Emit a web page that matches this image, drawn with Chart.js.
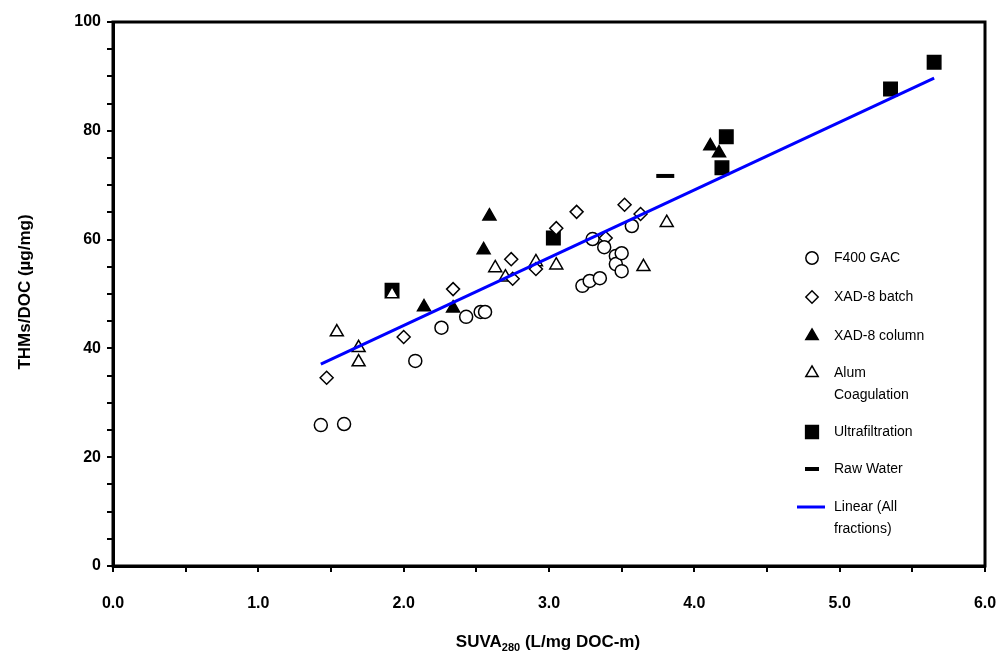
<!DOCTYPE html>
<html>
<head>
<meta charset="utf-8">
<script src="https://cdn.jsdelivr.net/npm/chart.js@4/dist/chart.umd.min.js"></script>
<style>
  html, body { margin: 0; padding: 0; background: #fff; }
  #wrap { width: 1002px; height: 658px; }
</style>
</head>
<body>
<div id="wrap"><canvas id="chart" width="1002" height="658"></canvas></div>
<script>
// F400 GAC
const gacX = [1.43, 1.59, 2.08, 2.26, 2.43, 2.53, 2.56, 3.23, 3.28, 3.30, 3.35, 3.38, 3.46, 3.46, 3.50, 3.50, 3.57];
const gacY = [25.9, 26.1, 37.7, 43.8, 45.8, 46.7, 46.7, 51.5, 52.4, 60.1, 52.9, 58.6, 57.0, 55.5, 57.5, 54.2, 62.5];
// XAD-8 batch
const batchX = [1.47, 2.00, 2.34, 2.74, 2.75, 2.91, 3.05, 3.19, 3.39, 3.52, 3.63];
const batchY = [34.6, 42.1, 50.9, 56.4, 52.8, 54.6, 62.1, 65.1, 60.3, 66.4, 64.7];
// XAD-8 column
const columnX = [2.14, 2.34, 2.55, 2.59, 4.11, 4.17];
const columnY = [47.6, 47.4, 58.1, 64.3, 77.2, 75.9];
// Alum coagulation
const alumX = [1.54, 1.69, 1.69, 1.92, 2.63, 2.70, 2.91, 3.05, 3.65, 3.81];
const alumY = [43.0, 40.1, 37.5, 50.0, 54.8, 53.1, 55.9, 55.3, 55.0, 63.1];
// Ultrafiltration
const ufX = [1.92, 3.03, 4.19, 4.22, 5.35, 5.65];
const ufY = [50.7, 60.3, 73.2, 78.9, 87.7, 92.6];
// Raw water
const rawX = [3.80];
const rawY = [71.7];
// Linear trend (all fractions), end points
const trendX = [1.43, 5.65];
const trendY = [37.1, 89.7];

const FONT = '"Liberation Sans", Arial, sans-serif';

function pts(xs, ys) {
  return xs.map((x, i) => ({ x: x, y: ys[i] }));
}

const series = [
  { label: 'F400 GAC', x: gacX, y: gacY, style: 'circle', r: 6.5, fill: '#fff' },
  { label: 'XAD-8 batch', x: batchX, y: batchY, style: 'rectRot', r: 6.5, fill: '#fff' },
  { label: 'XAD-8 column', x: columnX, y: columnY, style: 'triangle', r: 7.5, fill: '#000' },
  { label: ['Alum', 'Coagulation'], x: alumX, y: alumY, style: 'triangle', r: 7.5, fill: '#fff' },
  { label: 'Ultrafiltration', x: ufX, y: ufY, style: 'rect', r: 9.5, fill: '#000' },
  { label: 'Raw Water', x: rawX, y: rawY, style: 'line', r: 9, fill: '#000', bw: 4 },
];

const datasets = [
  {
    label: 'Linear (All fractions)',
    data: pts(trendX, trendY),
    showLine: true,
    borderColor: '#0000ff',
    borderWidth: 3,
    pointRadius: 0,
    fill: false,
  },
];
series.forEach(s => {
  datasets.push({
    label: Array.isArray(s.label) ? s.label.join(' ') : s.label,
    data: pts(s.x, s.y),
    pointStyle: s.style,
    pointRadius: s.r,
    pointBackgroundColor: s.fill,
    pointBorderColor: '#000',
    pointBorderWidth: s.bw || 1.5,
    showLine: false,
  });
});

// frame, axis titles and the legend inside the plot
const extras = {
  id: 'extras',
  afterDraw(chart) {
    const ctx = chart.ctx;
    const a = chart.chartArea;
    ctx.save();
    ctx.strokeStyle = '#000';
    ctx.lineWidth = 3;
    ctx.strokeRect(a.left, a.top, a.right - a.left, a.bottom - a.top);

    // y title
    ctx.fillStyle = '#000';
    ctx.font = 'bold 17px ' + FONT;
    ctx.textAlign = 'center';
    ctx.textBaseline = 'middle';
    ctx.save();
    ctx.translate(25, 292);
    ctx.rotate(-Math.PI / 2);
    ctx.fillText('THMs/DOC (µg/mg)', 0, 0);
    ctx.restore();

    // x title with subscript
    const p1 = 'SUVA', p2 = '280', p3 = ' (L/mg DOC-m)';
    ctx.textAlign = 'left';
    ctx.textBaseline = 'alphabetic';
    ctx.font = 'bold 17px ' + FONT;
    const w1 = ctx.measureText(p1).width;
    const w3 = ctx.measureText(p3).width;
    ctx.font = 'bold 11px ' + FONT;
    const w2 = ctx.measureText(p2).width;
    let x = 548 - (w1 + w2 + w3) / 2;
    const base = 647;
    ctx.font = 'bold 17px ' + FONT;
    ctx.fillText(p1, x, base);
    x += w1;
    ctx.font = 'bold 11px ' + FONT;
    ctx.fillText(p2, x, base + 4);
    x += w2;
    ctx.font = 'bold 17px ' + FONT;
    ctx.fillText(p3, x, base);

    // legend
    const rows = [258, 297, 336, 373, 432, 469, 507];
    ctx.font = '14px ' + FONT;
    ctx.textBaseline = 'middle';
    series.forEach((s, i) => {
      const y = rows[i];
      ctx.fillStyle = s.fill;
      ctx.strokeStyle = '#000';
      ctx.lineWidth = s.bw || 1.5;
      Chart.helpers.drawPoint(ctx, {
        pointStyle: s.style,
        radius: s.style === 'line' ? 7 : s.r * 0.95,
        rotation: 0,
        borderWidth: s.bw || 1.5,
      }, 812, y);
      ctx.fillStyle = '#000';
      const lines = Array.isArray(s.label) ? s.label : [s.label];
      lines.forEach((t, k) => ctx.fillText(t, 834, y + k * 22));
    });
    ctx.strokeStyle = '#0000ff';
    ctx.lineWidth = 3;
    ctx.beginPath();
    ctx.moveTo(797, 507);
    ctx.lineTo(825, 507);
    ctx.stroke();
    ctx.fillStyle = '#000';
    ctx.fillText('Linear (All', 834, 507);
    ctx.fillText('fractions)', 834, 529);
    ctx.restore();
  },
};

new Chart(document.getElementById('chart'), {
  type: 'scatter',
  data: { datasets: datasets },
  options: {
    responsive: false,
    animation: false,
    layout: { padding: { top: 22, right: 17, left: 0, bottom: 0 } },
    plugins: {
      legend: { display: false },
      tooltip: { enabled: false },
    },
    scales: {
      x: {
        type: 'linear',
        min: 0,
        max: 6,
        afterFit: s => {
          s.height = 92;
          s.paddingLeft = 0;
          s.paddingRight = 0;
        },
        border: { color: '#000', width: 3 },
        grid: { drawOnChartArea: false, color: '#000', lineWidth: 2, tickLength: 6 },
        ticks: {
          stepSize: 0.5,
          autoSkip: false,
          maxRotation: 0,
          padding: 22,
          color: '#000',
          font: { family: FONT, size: 16, weight: 'bold' },
          callback: v => (Math.abs(v - Math.round(v)) < 1e-6 ? v.toFixed(1) : ''),
        },
      },
      y: {
        type: 'linear',
        min: 0,
        max: 100,
        afterFit: s => {
          s.width = 113;
          s.paddingTop = 0;
          s.paddingBottom = 0;
        },
        border: { color: '#000', width: 3 },
        grid: { drawOnChartArea: false, color: '#000', lineWidth: 2, tickLength: 6 },
        ticks: {
          stepSize: 5,
          autoSkip: false,
          padding: 6,
          color: '#000',
          font: { family: FONT, size: 16, weight: 'bold' },
          callback: v => (v % 20 === 0 ? String(v) : ''),
        },
      },
    },
  },
  plugins: [extras],
});
</script>
</body>
</html>
